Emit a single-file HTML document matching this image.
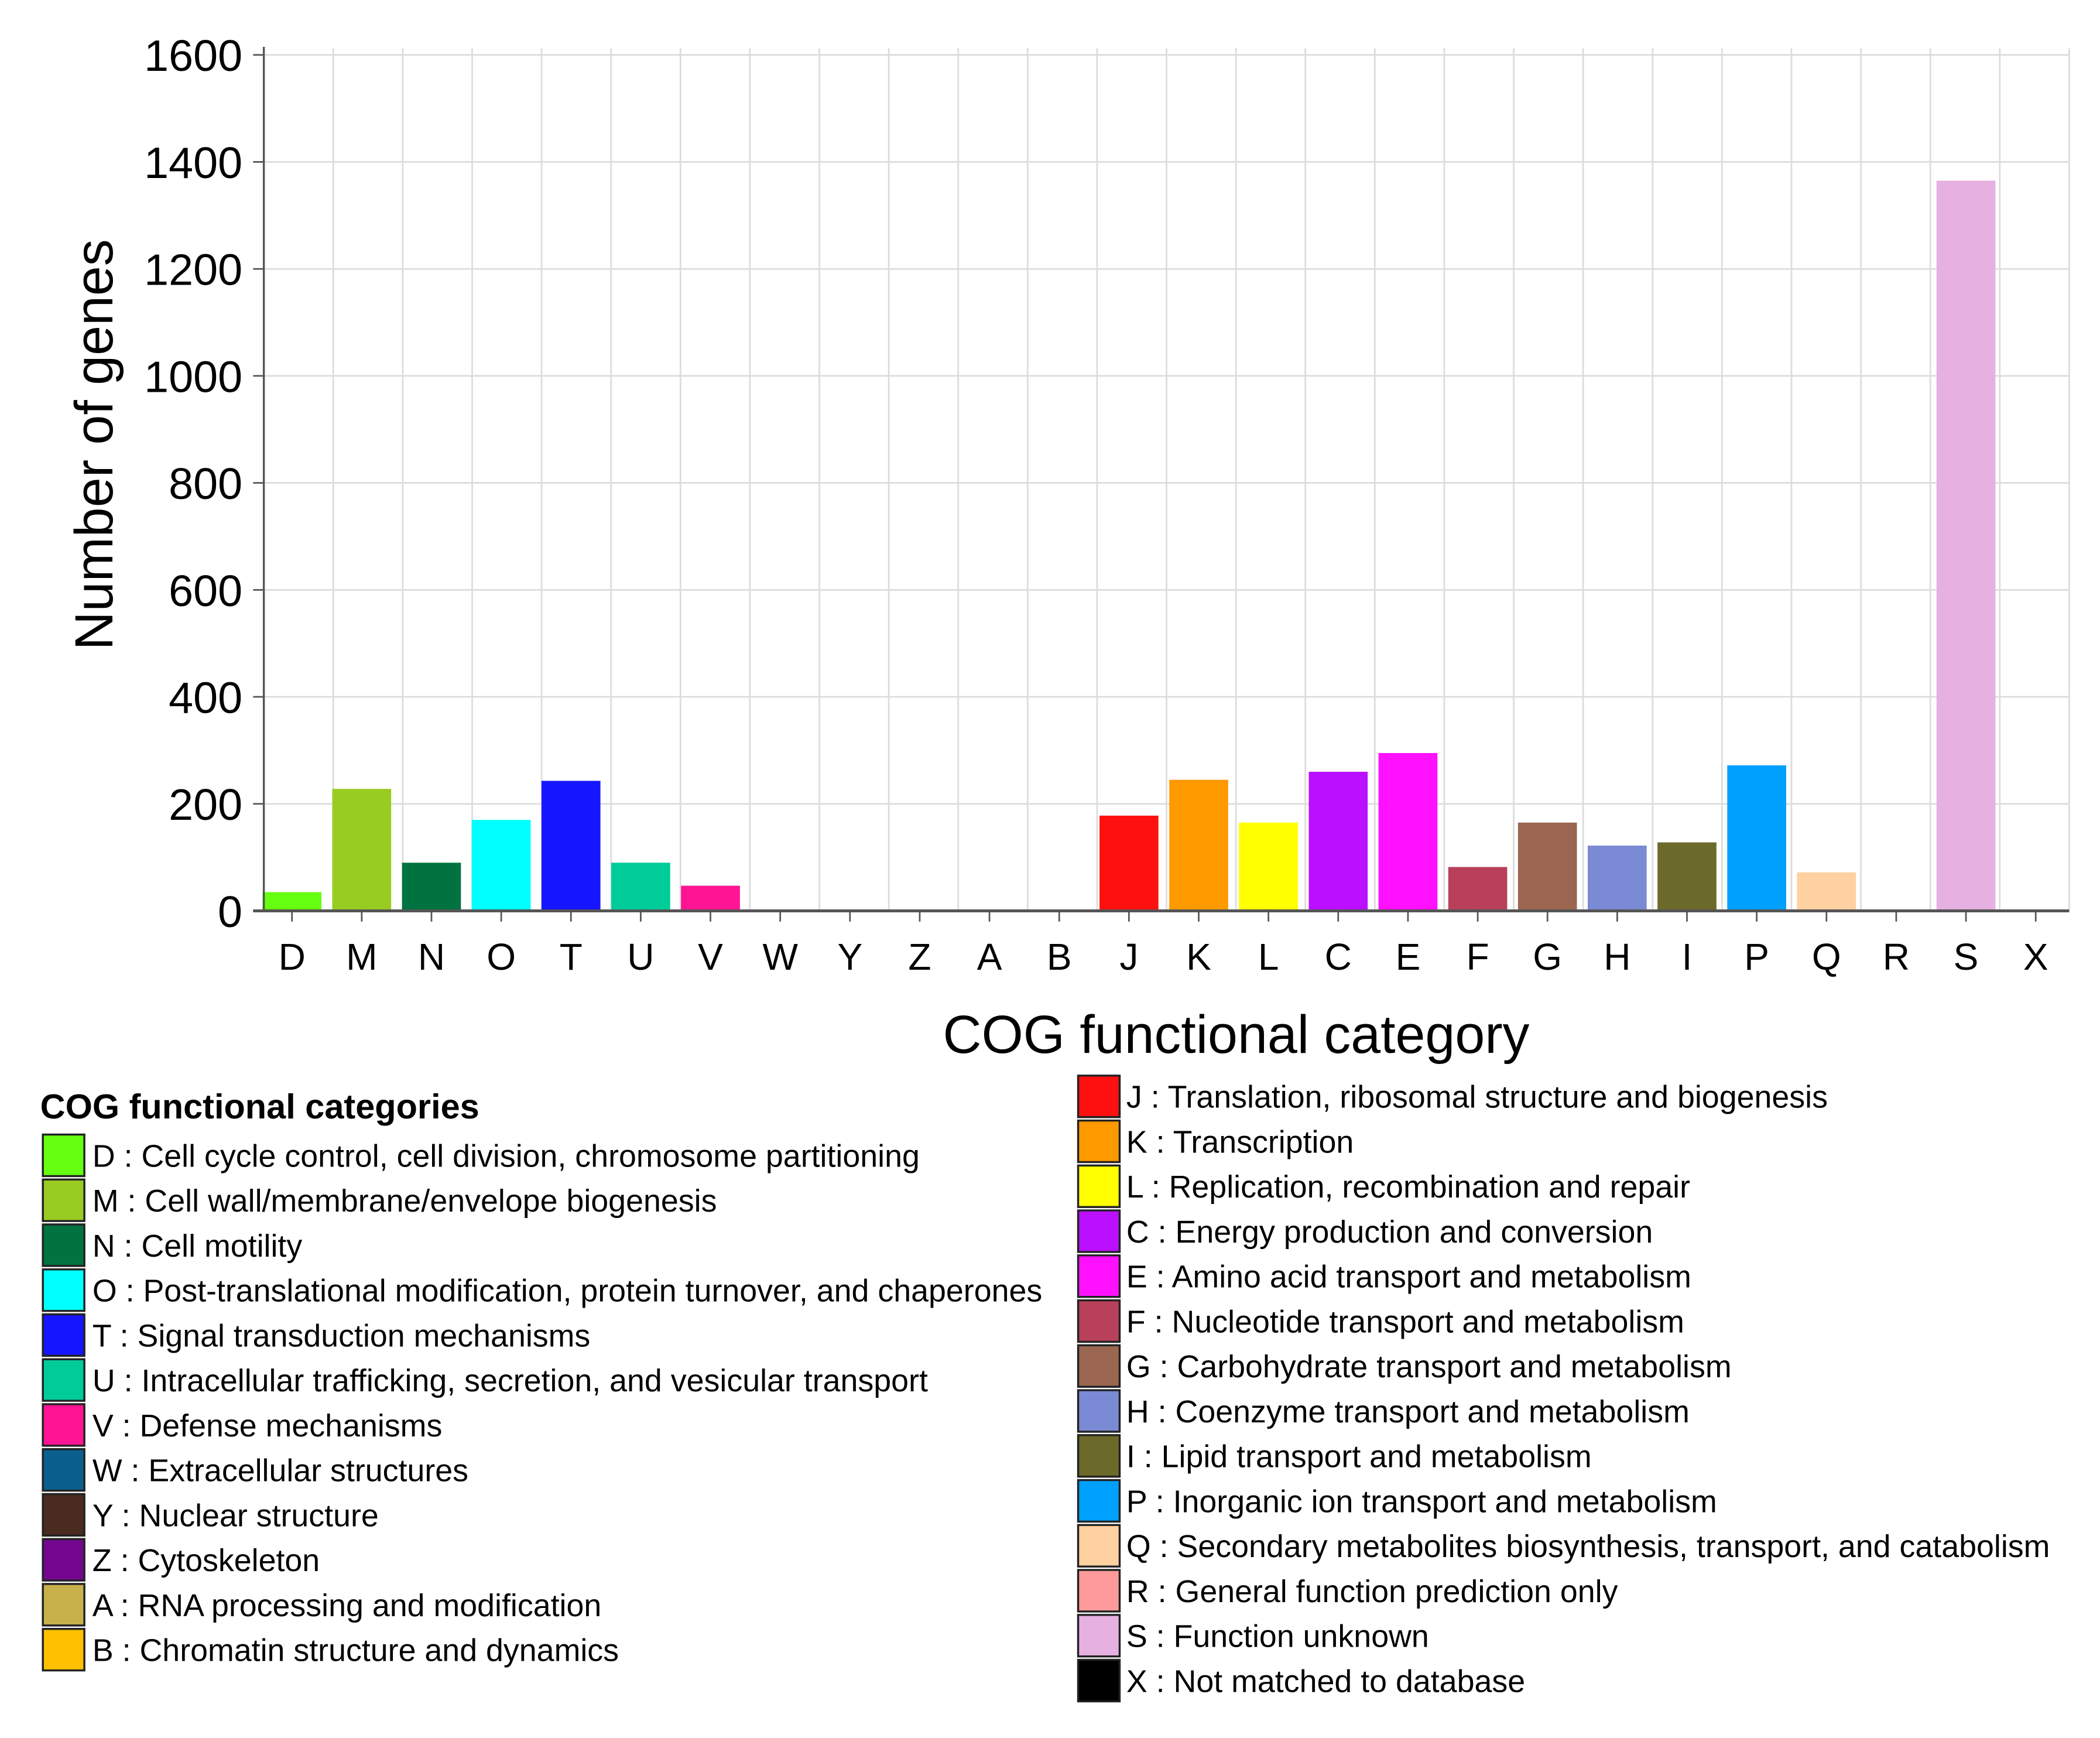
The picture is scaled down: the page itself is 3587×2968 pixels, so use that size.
<!DOCTYPE html>
<html><head><meta charset="utf-8"><style>
html,body{margin:0;padding:0;background:#fff;}
svg{display:block;}
text{font-family:"Liberation Sans",Arial,sans-serif;fill:#000;}
</style></head><body>
<svg id="chart" xmlns="http://www.w3.org/2000/svg" width="3587" height="2968" viewBox="0 0 1568 1297.5" preserveAspectRatio="none">
<g id="grid"></g>
<g id="bars"></g>
<g id="axes"></g>
<text transform="translate(84,332) rotate(-90)" text-anchor="middle" font-size="40">Number of genes</text>
<text x="923" y="786" text-anchor="middle" font-size="40">COG functional category</text>
<text x="30" y="835" font-size="26" font-weight="bold">COG functional categories</text>
<g id="legend"></g>
</svg>
<script>
const categories = ["D","M","N","O","T","U","V","W","Y","Z","A","B","J","K","L","C","E","F","G","H","I","P","Q","R","S","X"];
const values = [35,228,90,170,243,90,47,0,0,0,0,0,178,245,165,260,295,82,165,122,128,272,72,0,1365,0];
const colors = ["#66ff11","#99cc22","#007340","#00ffff","#1515ff","#00cc99","#ff1493","#0b5f8e","#4a2b1f","#73088f","#c8b04a","#ffc000","#ff1010","#ff9900","#ffff00","#bb10ff","#ff10ff","#b8405a","#9a6650","#7a8ad4","#6b6a2a","#00a0ff","#ffd0a0","#ff9a9a","#e6b0e0","#000000"];
const yTicks = [0,200,400,600,800,1000,1200,1400,1600];
const legendLeft = [
["D","D : Cell cycle control, cell division, chromosome partitioning"],
["M","M : Cell wall/membrane/envelope biogenesis"],
["N","N : Cell motility"],
["O","O : Post-translational modification, protein turnover, and chaperones"],
["T","T : Signal transduction mechanisms"],
["U","U : Intracellular trafficking, secretion, and vesicular transport"],
["V","V : Defense mechanisms"],
["W","W : Extracellular structures"],
["Y","Y : Nuclear structure"],
["Z","Z : Cytoskeleton"],
["A","A : RNA processing and modification"],
["B","B : Chromatin structure and dynamics"]];
const legendRight = [
["J","J : Translation, ribosomal structure and biogenesis"],
["K","K : Transcription"],
["L","L : Replication, recombination and repair"],
["C","C : Energy production and conversion"],
["E","E : Amino acid transport and metabolism"],
["F","F : Nucleotide transport and metabolism"],
["G","G : Carbohydrate transport and metabolism"],
["H","H : Coenzyme transport and metabolism"],
["I","I : Lipid transport and metabolism"],
["P","P : Inorganic ion transport and metabolism"],
["Q","Q : Secondary metabolites biosynthesis, transport, and catabolism"],
["R","R : General function prediction only"],
["S","S : Function unknown"],
["X","X : Not matched to database"]];

const NS="http://www.w3.org/2000/svg";
const X0=197, X1=1545, Y0=680, Ytop=41, YMAX=1600;
const step=52.08;
const gstep=(X1-X0)/26;
function xScale(i){return 218+step*i;}
function yScale(v){return Y0-(v/YMAX)*(Y0-Ytop);}
function mk(tag,attrs,parent){const e=document.createElementNS(NS,tag);for(const k in attrs)e.setAttribute(k,attrs[k]);parent.appendChild(e);return e;}
const grid=document.getElementById('grid'), bars=document.getElementById('bars'), axes=document.getElementById('axes'), legend=document.getElementById('legend');

yTicks.forEach(t=>{
  const y=yScale(t);
  if(t>0){const g=mk('line',{x1:X0,x2:X1,y1:y,y2:y,stroke:'#dcdcdc','stroke-width':1.2},grid);
  
  }
  const tk=mk('line',{x1:X0-8,x2:X0,y1:y,y2:y,stroke:'#555','stroke-width':1.2},axes);
  
  
  const lb=mk('text',{x:X0-16,y:y+12,'text-anchor':'end','font-size':33},axes);
  lb.textContent=t;
  
  
});
for(let i=1;i<=26;i++){
  const x=X0+gstep*i;
  const g=mk('line',{x1:x,x2:x,y1:Ytop-5,y2:Y0,stroke:'#dcdcdc','stroke-width':1.2},grid);
  
  
}
const bw=44;
categories.forEach((c,i)=>{
  const cx=xScale(i);
  if(values[i]>0){
    const r=mk('rect',{x:cx-bw/2,y:yScale(values[i]),width:bw,height:Y0-yScale(values[i]),fill:colors[i]},bars);
    
    
  }
  const tk=mk('line',{x1:cx,x2:cx,y1:Y0,y2:Y0+8,stroke:'#555','stroke-width':1.2},axes);
  
  
  const lb=mk('text',{x:cx,y:Y0+44,'text-anchor':'middle','font-size':28},axes);
  lb.textContent=c;
  
  
});
const ya=mk('line',{x1:X0,x2:X0,y1:Ytop-6,y2:Y0,stroke:'#555','stroke-width':1.5},axes);


const xa=mk('line',{x1:X0-8,x2:X1,y1:Y0,y2:Y0,stroke:'#555','stroke-width':2.2},axes);



function drawLegend(list,sx,sy,tx){
  list.forEach((it,k)=>{
    const y=sy+k*33.55;
    const ci=categories.indexOf(it[0]);
    const sw=mk('rect',{x:sx,y:y,width:31,height:31,fill:colors[ci],stroke:'#222','stroke-width':1.5},legend);
    
    
    const t=mk('text',{x:tx,y:y+24,'font-size':23.5},legend);
    t.textContent=it[1];
    
    
  });
}
drawLegend(legendLeft,32,847,69);
drawLegend(legendRight,805,803,841);
</script>
</body></html>
